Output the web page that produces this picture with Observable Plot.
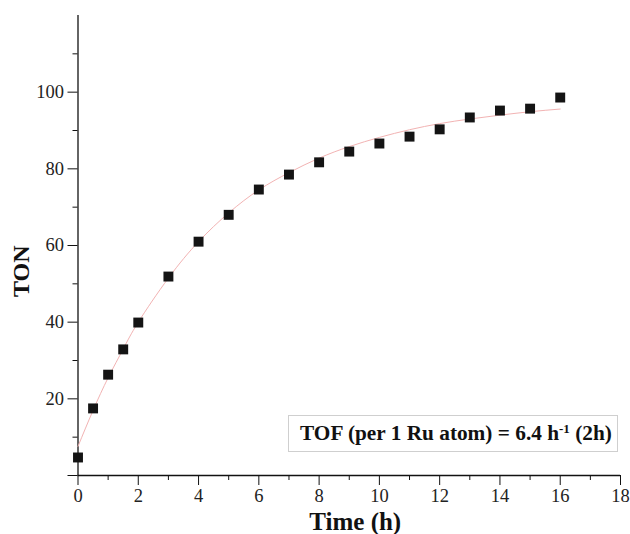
<!DOCTYPE html>
<html>
<head>
<meta charset="utf-8">
<script src="https://cdn.jsdelivr.net/npm/d3@7"></script>
<script src="https://cdn.jsdelivr.net/npm/@observablehq/plot@0.6"></script>
<style>
  html, body { margin: 0; padding: 0; background: #fff; }
  #wrap { position: relative; width: 630px; height: 534px; }
  #wrap svg { font-family: "Liberation Serif", "Times New Roman", serif; }
  #legend {
    position: absolute; left: 288px; top: 415px; width: 330px; height: 37px;
    border: 1px solid #cfcfcf; box-sizing: border-box;
    font-family: "Liberation Serif", "Times New Roman", serif; font-weight: bold;
    font-size: 21.3px; color: #111; line-height: 35px; padding-left: 11px; white-space: nowrap;
  }
  #legend sup { font-size: 13px; line-height: 0; vertical-align: 7px; }
</style>
</head>
<body>
<div id="wrap"></div>
<script>
// Measured points (Time h, TON)
const times = [0, 0.5, 1, 1.5, 2, 3, 4, 5, 6, 7, 8, 9, 10, 11, 12, 13, 14, 15, 16];
const ton   = [4.7, 17.5, 26.3, 32.9, 39.9, 51.9, 61, 68, 74.6, 78.5, 81.7, 84.5, 86.6, 88.4, 90.3, 93.4, 95.2, 95.7, 98.6];

// Fitted curve
const fitTimes = [0, 0.5, 1, 1.5, 2, 3, 4, 5, 6, 7, 8, 9, 10, 11, 12, 13, 14, 15, 16];
const fitTon   = [7.6, 17, 25.5, 33, 40, 51.5, 61, 68.5, 74.5, 79, 82.8, 85.8, 88.2, 90.2, 91.8, 93, 94, 94.9, 95.6];

const xMajor = [0, 2, 4, 6, 8, 10, 12, 14, 16, 18];
const xMinor = [1, 3, 5, 7, 9, 11, 13, 15, 17];
const yMajor = [0, 20, 40, 60, 80, 100];
const yMinor = [10, 30, 50, 70, 90, 110];
const xTitle = "Time (h)";
const yTitle = "TON";

const points = times.map((t, i) => ({t, v: ton[i]}));
const fit = fitTimes.map((t, i) => ({t, v: fitTon[i]}));

const chart = Plot.plot({
  width: 630,
  height: 534,
  marginLeft: 77.5,
  marginRight: 10,
  marginTop: 15,
  marginBottom: 59,
  style: {fontFamily: "Liberation Serif, Times New Roman, serif", fontSize: "18.5px", color: "#222", background: "white"},
  x: {domain: [0, 18]},
  y: {domain: [0, 120]},
  marks: [
    Plot.axisX({ticks: xMajor, tickSize: 10, tickPadding: 3, tickFormat: d => String(d), stroke: "#111", label: null, fill: "#222"}),
    Plot.axisX({ticks: xMinor, tickSize: 5, tickFormat: () => "", label: null, stroke: "#111"}),
    Plot.axisY({ticks: yMajor, tickSize: 10, tickPadding: 4, tickFormat: d => d === 0 ? "" : String(d), stroke: "#111", label: null, fill: "#222"}),
    Plot.axisY({ticks: yMinor, tickSize: 5, tickFormat: () => "", label: null, stroke: "#111"}),
    Plot.ruleY([0], {stroke: "#111", strokeWidth: 1.3}),
    Plot.ruleX([0], {stroke: "#111", strokeWidth: 1.3}),
    Plot.line(fit, {x: "t", y: "v", stroke: "#f2b3b3", strokeWidth: 1, curve: "natural"}),
    Plot.dot(points, {x: "t", y: "v", symbol: "square", r: 5.6, fill: "#141414", stroke: "none"}),
    Plot.text([xTitle], {frameAnchor: "bottom", text: d => d, dy: 54, dx: 6, lineAnchor: "bottom",
      fontSize: 25, fontWeight: "bold", fill: "#111"}),
    Plot.text([yTitle], {frameAnchor: "left", text: d => d, dx: -56.5, rotate: -90, lineAnchor: "middle", textAnchor: "end",
      fontSize: 24, fontWeight: "bold", fill: "#111"})
  ]
});

const wrap = document.getElementById("wrap");
wrap.appendChild(chart);
const legend = document.createElement("div");
legend.id = "legend";
legend.innerHTML = "TOF (per 1 Ru atom) = 6.4 h<sup>-1</sup> (2h)";
wrap.appendChild(legend);
</script>
</body>
</html>
